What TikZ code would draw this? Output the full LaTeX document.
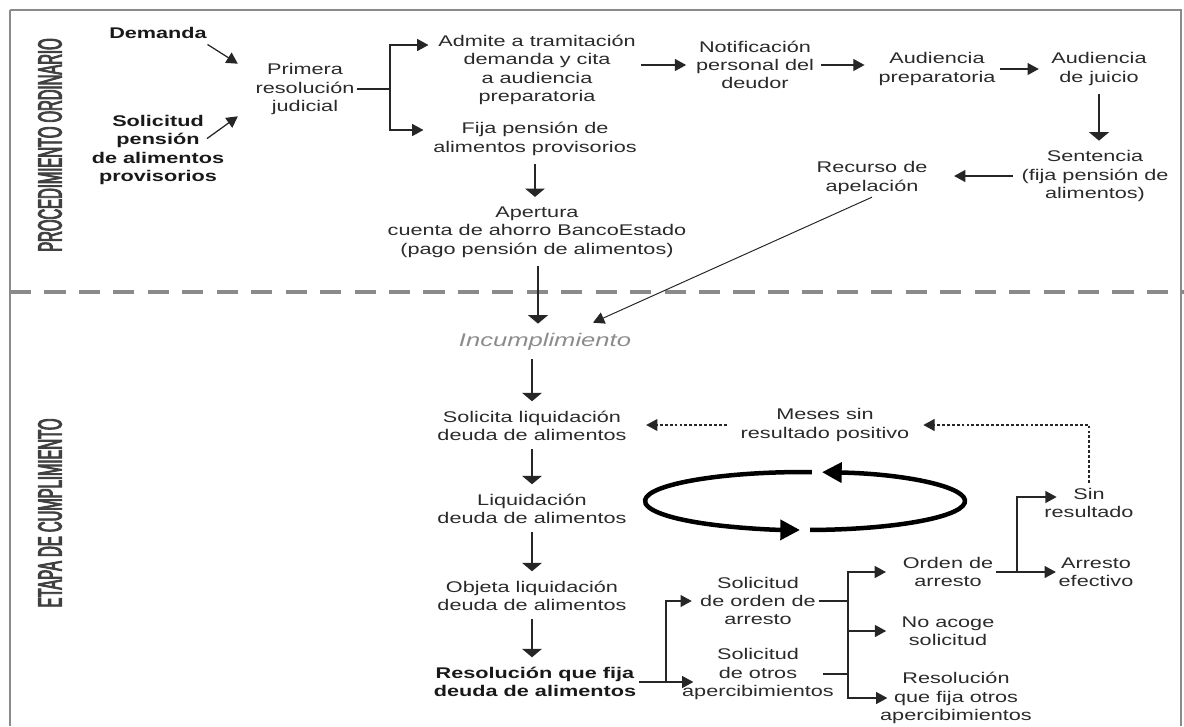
\documentclass[tikz,border=0pt]{standalone}
\usepackage{fontspec}
\setmainfont{Liberation Sans}[FakeStretch=1.4]
\newfontfamily\sidefont{Liberation Sans}[FakeStretch=0.44,FakeBold=2.5]
\usetikzlibrary{arrows.meta}
\definecolor{txt}{HTML}{2A2A2A}
\definecolor{rule}{HTML}{8A8A8A}

\begin{document}
\begin{tikzpicture}[x=0.025cm,y=-0.025cm,
  every node/.style={inner sep=2pt,outer sep=0pt},
  txtnode/.style={align=center,text=txt,font=\fontsize{11}{13}\selectfont},
  boldnode/.style={align=center,text=black!90,font=\fontsize{11}{13}\selectfont\bfseries},
  sidelabel/.style={rotate=90,text=black!75,font=\sidefont\fontsize{24}{24}\selectfont},
  link/.style={line width=0.9pt,draw=black!85},
  flow/.style={link,-{Triangle[length=8pt,width=8.5pt]}},
  vflow/.style={link,line width=1.1pt,-{Triangle[length=6pt,width=14pt]},shorten <=4pt,shorten >=5pt},
  backflow/.style={flow,line width=0.8pt,dash pattern=on 2pt off 1.5pt},
  cyclearrow/.style={-{Triangle[length=14pt,width=14pt]},line width=3.2pt,draw=black}]
\useasboundingbox (0,0) rectangle (1184,726);

% Frame and stage separator
\draw[rule,line width=2pt] (10,726) -- (10,10);
\draw[rule,line width=1pt] (10,10) -- (1181,10) -- (1181,726);
\draw[rule,line width=2.2pt,dash pattern=on 15pt off 9.5pt] (10,292) -- (1184,292);
\node[sidelabel] (ordLbl) at (50,145) {PROCEDIMIENTO ORDINARIO};
\node[sidelabel] (cumLbl) at (50,513) {ETAPA DE CUMPLIMIENTO};

% Procedimiento ordinario
\node[boldnode] (demanda) at (158,33) {Demanda};
\node[boldnode] (solPension) at (158,150) {Solicitud\\pensión\\de alimentos\\provisorios};
\node[txtnode] (primera) at (305,89) {Primera\\resolución\\judicial};
\node[txtnode] (admite) at (537,70) {Admite a tramitación\\demanda y cita\\a audiencia\\preparatoria};
\node[txtnode] (fija) at (535,139) {Fija pensión de\\alimentos provisorios};
\node[txtnode] (notif) at (755,65) {Notificación\\personal del\\deudor};
\node[txtnode] (audPrep) at (937,69) {Audiencia\\preparatoria};
\node[txtnode] (audJuicio) at (1099,69) {Audiencia\\de juicio};
\node[txtnode] (sentencia) at (1095,176) {Sentencia\\(fija pensión de\\alimentos)};
\node[txtnode] (recurso) at (872,178) {Recurso de\\apelación};
\node[txtnode] (apertura) at (537,232) {Apertura\\cuenta de ahorro BancoEstado\\(pago pensión de alimentos)};

\draw[flow] ([shift={(-2,3)}]demanda.south east) -- ([shift={(-15,3)}]primera.north west);
\draw[flow] ([shift={(-20,26)}]solPension.north east) -- ([shift={(-15,-1)}]primera.south west);
\coordinate (splitA) at (390,89);
\draw[link] (primera.east) -- (splitA);
\draw[flow,shorten >=5pt] (splitA) |- ([shift={(0,-25)}]admite.west);
\draw[flow,shorten >=5pt] (splitA) |- ([shift={(0,-9)}]fija.west);
\draw[flow,shorten <=2pt,shorten >=5pt] (admite.east |- notif.west) -- (notif.west);
\draw[flow,shorten <=3pt,shorten >=8pt] (notif.east) -- (notif.east -| audPrep.west);
\draw[flow,shorten <=1pt,shorten >=7pt] (audPrep.east) -- (audPrep.east -| audJuicio.west);
\draw[vflow] (audJuicio.south) -- (audJuicio.south |- sentencia.north);
\draw[flow,shorten <=4pt,shorten >=17pt] (sentencia.west) -- (sentencia.west -| recurso.east);
\draw[vflow] (fija.south) -- (fija.south |- apertura.north);

% Etapa de cumplimiento
\node[txtnode,text=black!45,font=\fontsize{13}{15}\selectfont\itshape] (incumpl) at (545,342) {Incumplimiento};
\node[txtnode] (solicita) at (532,426) {Solicita liquidación\\deuda de alimentos};
\node[txtnode] (meses) at (825,425) {Meses sin\\resultado positivo};
\node[txtnode] (liquid) at (532,509) {Liquidación\\deuda de alimentos};
\node[txtnode] (objeta) at (532,596) {Objeta liquidación\\deuda de alimentos};
\node[boldnode] (resol) at (535,682) {Resolución que fija\\deuda de alimentos};
\node[txtnode] (solOrden) at (758,601) {Solicitud\\de orden de\\arresto};
\node[txtnode] (solOtros) at (758,674) {Solicitud\\de otros\\apercibimientos};
\node[txtnode] (orden) at (948,572) {Orden de\\arresto};
\node[txtnode] (noAcoge) at (948,631) {No acoge\\solicitud};
\node[txtnode] (resOtros) at (956,698) {Resolución\\que fija otros\\apercibimientos};
\node[txtnode] (sinRes) at (1089,503) {Sin\\resultado};
\node[txtnode] (arresto) at (1096,572) {Arresto\\efectivo};

\draw[vflow] (apertura.south -| 538,0) -- (538,0 |- incumpl.north);
\draw[flow,line width=0.7pt] (recurso.south) -- ([shift={(48,-8)}]incumpl.north);
\draw[vflow] (solicita.north |- incumpl.south) -- (solicita.north);
\draw[vflow] (solicita.south) -- (liquid.north);
\draw[vflow] (liquid.south) -- (objeta.north);
\draw[vflow] (objeta.south) -- (objeta.south |- resol.north);
\draw[backflow,shorten <=8pt,shorten >=12pt] (meses.west) -- (meses.west -| solicita.east);
\draw[backflow,shorten <=2pt,shorten >=8pt] (sinRes.north) |- (meses.east);

% Ciclo
\coordinate (loopC) at (805,501);
\draw[cyclearrow] ([shift={(-87.5:160 and 29)}]loopC) arc[start angle=-87.5,end angle=-268.2,x radius=160,y radius=29];
\draw[cyclearrow] ([shift={(88.2:160 and 29)}]loopC) arc[start angle=88.2,end angle=-83.9,x radius=160,y radius=29];

% Ramas de la resolucion
\coordinate (splitB) at ([shift={(27,0)}]resol.east);
\draw[link] (resol.east) -- (splitB);
\draw[flow,shorten >=4pt] (splitB) |- (solOrden.west);
\draw[flow] (splitB) -- ([shift={(14,0)}]splitB -| solOtros.west);
\coordinate (splitC) at (848,601);
\draw[link] (solOrden.east) -- (splitC);
\draw[link] ([shift={(-14,0)}]solOtros.east) -- (solOtros.east -| splitC);
\draw[flow,shorten >=10pt] (splitC) |- (orden.west);
\draw[flow,shorten >=9pt] (splitC) |- (noAcoge.west);
\draw[flow] (splitC) |- ([shift={(10,0)}]resOtros.west);
\coordinate (splitD) at (1017,572);
\draw[link] (orden.east) -- (splitD);
\draw[flow] (splitD) |- ([shift={(15,-6)}]sinRes.west);
\draw[flow] (splitD) -- (splitD -| arresto.west);
\end{tikzpicture}
\end{document}
